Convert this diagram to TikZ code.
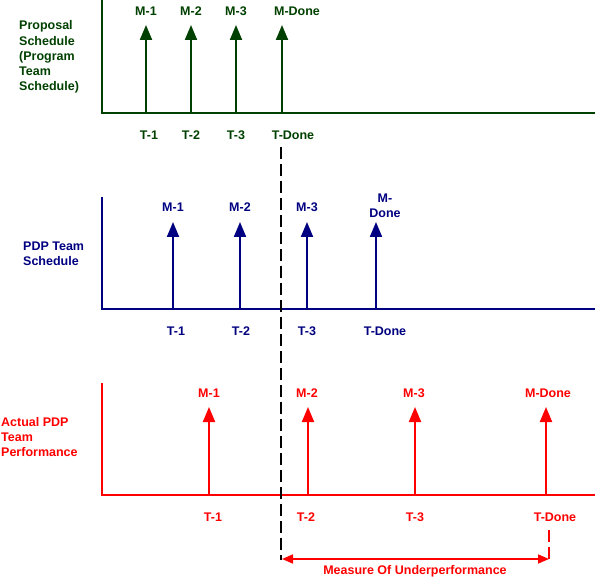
\documentclass[tikz,border=0pt]{standalone}
\usepackage{fontspec}
\setmainfont{Liberation Sans}
\usepackage{xcolor}
\usepackage{tikz}
\usetikzlibrary{arrows.meta}

\definecolor{propgreen}{HTML}{004000}
\definecolor{pdpnavy}{HTML}{000080}
\definecolor{actred}{HTML}{FF0000}

\begin{document}
\begin{tikzpicture}[
    x=1pt, y=-1pt,
    lbl/.style={font=\fontsize{12.5}{15.2}\selectfont\bfseries, inner sep=0pt},
    side/.style={lbl, align=left, anchor=west},
    axis/.style={line width=2pt, line join=miter},
    mile/.style={line width=2pt, -{Triangle[length=15pt, width=12pt]}},
    cut/.style={line width=2pt, dash pattern=on 12pt off 5pt},
    span/.style={line width=1.6pt, {Triangle[length=11pt, width=9pt]}-{Triangle[length=11pt, width=9pt]}},
]
\useasboundingbox (0,0) rectangle (595,580);

% === Panel 1: Proposal schedule ===
\begin{scope}[color=propgreen]
\coordinate (p1top) at (102,0);
\coordinate (p1org) at (102,113);
\coordinate (p1end) at (595,113);
\draw[axis] (p1top) -- (p1org) -- (p1end);
\node[side, text=propgreen] (p1name) at (19,57) {Proposal\\Schedule\\(Program\\Team\\Schedule)};
\foreach \ax/\n in {146/1, 191/2, 236/3, 282/4} {
    \coordinate (p1b\n) at (\ax,113);
    \coordinate (p1t\n) at (\ax,25);
    \draw[mile] (p1b\n) -- (p1t\n);
}
\foreach \lx/\txt/\n in {146/M-1/1, 191/M-2/2, 236/M-3/3, 297/M-Done/4}
    \node[lbl, text=propgreen] (p1m\n) at (\lx,11) {\txt};
\foreach \lx/\txt/\n in {149/T-1/1, 191/T-2/2, 236/T-3/3, 293/T-Done/4}
    \node[lbl, text=propgreen] (p1d\n) at (\lx,135) {\txt};
\end{scope}

% === Panel 2: PDP team schedule ===
\begin{scope}[color=pdpnavy]
\coordinate (p2top) at (102,197);
\coordinate (p2org) at (102,309);
\coordinate (p2end) at (595,309);
\draw[axis] (p2top) -- (p2org) -- (p2end);
\node[side, text=pdpnavy] (p2name) at (23,254) {PDP Team\\Schedule};
\foreach \ax/\n in {173/1, 240/2, 307/3, 376/4} {
    \coordinate (p2b\n) at (\ax,309);
    \coordinate (p2t\n) at (\ax,222);
    \draw[mile] (p2b\n) -- (p2t\n);
}
\foreach \lx/\txt/\n in {173/M-1/1, 240/M-2/2, 307/M-3/3}
    \node[lbl, text=pdpnavy] (p2m\n) at (\lx,207) {\txt};
\node[lbl, text=pdpnavy, align=center] (p2m4) at (385,206) {M-\\Done};
\foreach \lx/\txt/\n in {176/T-1/1, 241/T-2/2, 307/T-3/3, 385/T-Done/4}
    \node[lbl, text=pdpnavy] (p2d\n) at (\lx,331) {\txt};
\end{scope}

% === Panel 3: Actual PDP team performance ===
\begin{scope}[color=actred]
\coordinate (p3top) at (102,383);
\coordinate (p3org) at (102,495);
\coordinate (p3end) at (595,495);
\draw[axis] (p3top) -- (p3org) -- (p3end);
\node[side, text=actred] (p3name) at (1,437) {Actual PDP\\Team\\Performance};
\foreach \ax/\n in {209/1, 308/2, 415/3, 546/4} {
    \coordinate (p3b\n) at (\ax,495);
    \coordinate (p3t\n) at (\ax,407);
    \draw[mile] (p3b\n) -- (p3t\n);
}
\foreach \lx/\txt/\n in {209/M-1/1, 307/M-2/2, 414/M-3/3, 548/M-Done/4}
    \node[lbl, text=actred] (p3m\n) at (\lx,393) {\txt};
\foreach \lx/\txt/\n in {213/T-1/1, 306/T-2/2, 415/T-3/3, 555/T-Done/4}
    \node[lbl, text=actred] (p3d\n) at (\lx,517) {\txt};
\end{scope}

% === Cut-off line and underperformance span ===
\coordinate (cuttop) at (281,147);
\coordinate (cutbot) at (281,560);
\draw[cut, black] (cuttop) -- (cutbot);
\coordinate (spanl) at (282,559);
\coordinate (spanr) at (549,559);
\coordinate (ticktop) at (549,530);
\draw[cut, actred] (ticktop) -- (spanr);
\draw[span, actred] (spanl) -- (spanr);
\node[lbl, text=actred] (gap) at (415,571) {Measure Of Underperformance};

\end{tikzpicture}
\end{document}
